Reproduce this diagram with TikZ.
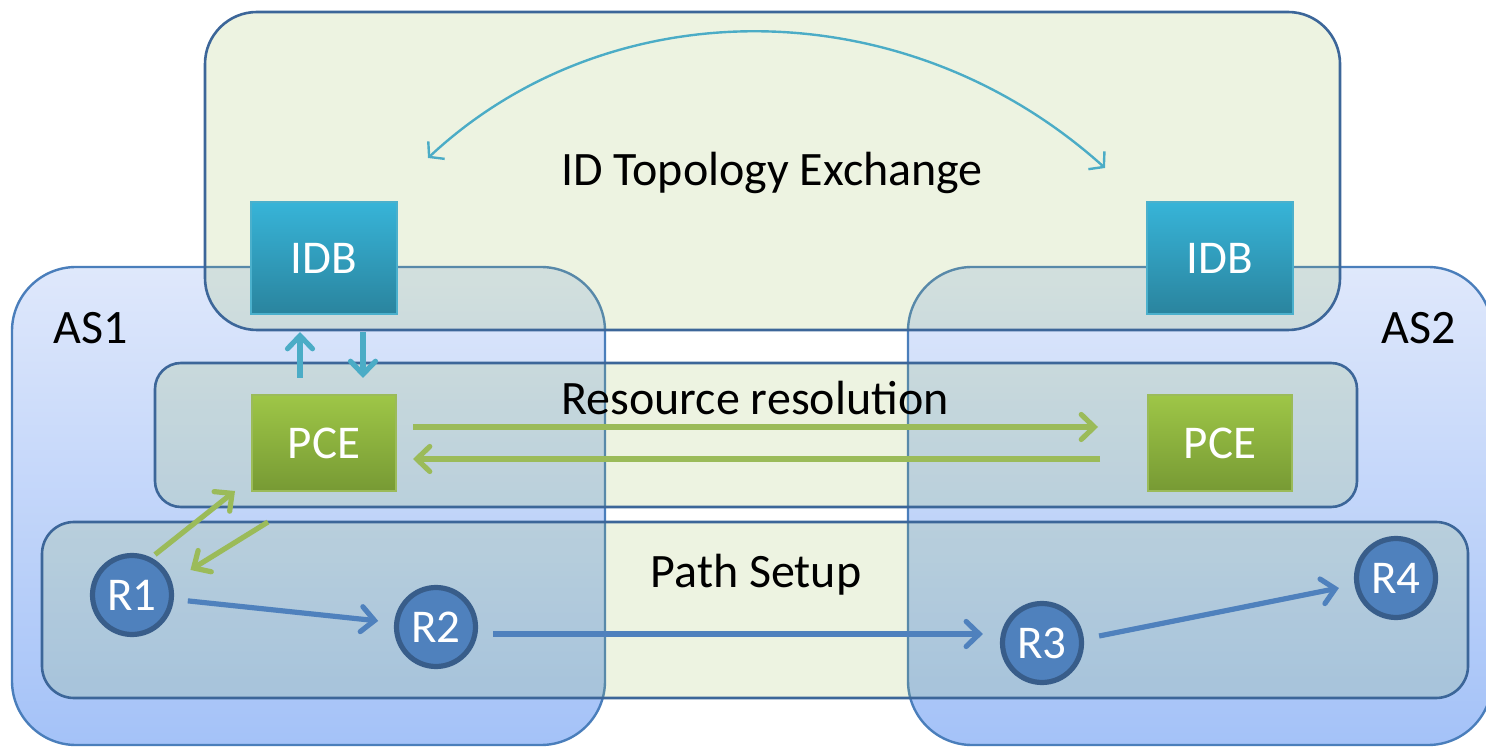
\documentclass[tikz,border=0pt]{standalone}
\usepackage{fontspec}
\setmainfont{Carlito}
\usetikzlibrary{arrows.meta,calc}
\definecolor{boxline}{HTML}{3C6699}
\definecolor{asline}{HTML}{4A7EBB}
\definecolor{astop}{HTML}{DFE8FB}
\definecolor{asbot}{HTML}{A4C2F8}
\definecolor{overlay}{HTML}{9BBB59}
\definecolor{idbtop}{HTML}{37B4D8}
\definecolor{idbbot}{HTML}{2A849E}
\definecolor{idbline}{HTML}{4BB0CC}
\definecolor{pcetop}{HTML}{9EC647}
\definecolor{pcebot}{HTML}{779A34}
\definecolor{pceline}{HTML}{9BBB59}
\definecolor{rfill}{HTML}{4F81BD}
\definecolor{rline}{HTML}{385D8A}
\definecolor{cyanarr}{HTML}{4BACC6}
\definecolor{greenarr}{HTML}{9BBB59}
\definecolor{bluearr}{HTML}{4F81BD}
\tikzset{
  asbox/.style={draw=asline, line width=1.2pt, top color=astop, bottom color=asbot, rounded corners=32pt},
  layer/.style={draw=boxline, line width=1.3pt, fill=overlay, fill opacity=0.18},
  idbbox/.style={draw=idbline, line width=1pt, top color=idbtop, bottom color=idbbot, minimum width=73pt, minimum height=56pt, text=white, font=\fontsize{23.5}{27}\selectfont},
  pcebox/.style={draw=pceline, line width=1pt, top color=pcetop, bottom color=pcebot, minimum width=72pt, minimum height=48pt, text=white, font=\fontsize{23.5}{27}\selectfont},
  router/.style={circle, draw=rline, line width=2.6pt, fill=rfill, minimum size=39.5pt, inner sep=0pt, text=white, font=\fontsize{23.5}{27}\selectfont},
  lbl/.style={anchor=base, font=\fontsize{24}{28}\selectfont, inner sep=0pt},
  tip/.style={-{Straight Barb[length=6.5pt,width=12.5pt,line cap=round]}},
  barr/.style={tip, draw=bluearr, line width=2.6pt},
  garr/.style={tip, draw=greenarr, line width=2.6pt},
  carr/.style={tip, draw=cyanarr, line width=2.6pt},
}
\begin{document}
\begin{tikzpicture}[x=0.5pt,y=-0.5pt]
\useasboundingbox (0,0) rectangle (1486,747);
% autonomous systems
\shadedraw[asbox] (12,267) rectangle (605,745);
\shadedraw[asbox] (908,267) rectangle (1492,745);
% layers
\draw[layer, rounded corners=26pt] (205,12) rectangle (1340,330);
\draw[layer, rounded corners=13pt] (155,363) rectangle (1357,507);
\draw[layer, rounded corners=16pt] (42,522) rectangle (1468,698);
% labels
\node[lbl] (tIDX) at (772,186) {ID Topology Exchange};
\node[lbl] (tRR) at (755,415) {Resource resolution};
\node[lbl] (tPS) at (756,587) {Path Setup};
\node[lbl] (tAS1) at (91,344) {AS1};
\node[lbl] (tAS2) at (1419,344) {AS2};
% boxes
\node[idbbox] (IDB1) at (324,258) {IDB};
\node[idbbox] (IDB2) at (1220,258) {IDB};
\node[pcebox] (PCE1) at (324,443) {PCE};
\node[pcebox] (PCE2) at (1220,443) {PCE};
% routers
\node[router] (R1) at (132,595) {R1};
\node[router] (R2) at (436,627) {R2};
\node[router] (R3) at (1042,643) {R3};
\node[router] (R4) at (1396,578) {R4};
% arc between IDBs
\coordinate (arcR) at (1105,168);
\coordinate (arcL) at (428,158);
\draw[cyanarr, line width=1.2pt, {Straight Barb[length=5pt,width=12pt]}-{Straight Barb[length=5pt,width=12pt]}]
  (arcL) .. controls (610,-12) and (905,-12) .. (arcR);
% IDB <-> PCE
\draw[carr] ([shift={(-24,-16)}]PCE1.north) -- ([shift={(-24,17)}]IDB1.south);
\draw[carr] ([shift={(39,17)}]IDB1.south) -- ([shift={(39,-16)}]PCE1.north);
% PCE <-> PCE
\draw[garr] ([shift={(16,-16)}]PCE1.east) -- ([shift={(-49,-16)}]PCE2.west);
\draw[garr] ([shift={(-47,16)}]PCE2.west) -- ([shift={(16,16)}]PCE1.east);
% R1 <-> PCE1
\draw[garr] ([shift={(2,-4)}]R1.60) -- ([shift={(-16,-1)}]PCE1.south west);
\draw[garr] ([shift={(17,30)}]PCE1.south west) -- ([shift={(22,-4)}]R1.30);
% path
\draw[barr, shorten <=7pt, shorten >=8pt] (R1) -- (R2);
\draw[barr] ([shift={(15,7)}]R2.east) -- ([shift={(-17,-9)}]R3.west);
\draw[barr] ([shift={(15,-7)}]R3.east) -- ([shift={(-15,10)}]R4.west);
\end{tikzpicture}
\end{document}
